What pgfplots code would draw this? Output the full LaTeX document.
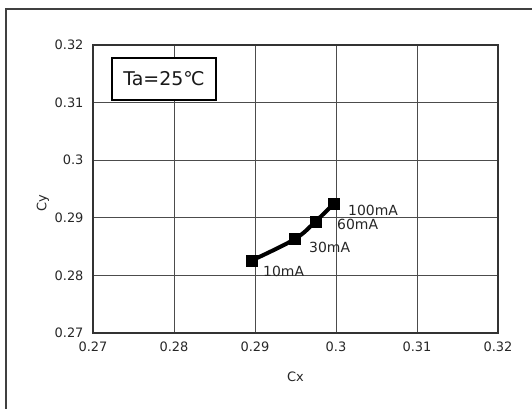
\documentclass[border=0pt]{standalone}
\usepackage{fontspec}
\setmainfont{DejaVu Sans}
\usepackage{pgfplots}
\pgfplotsset{compat=1.18}
\begin{document}
\begin{tikzpicture}[x=1bp,y=1bp]
\useasboundingbox (0,0) rectangle (532,408);
\draw[line width=1.5bp, black!75] (6,-5) -- (6,399) -- (540,399);
\begin{axis}[
  at={(93bp,75bp)}, anchor=south west,
  scale only axis, width=405bp, height=288bp,
  xmin=0.27, xmax=0.32, ymin=0.27, ymax=0.32,
  xtick={0.27,0.28,0.29,0.3,0.31,0.32},
  ytick={0.27,0.28,0.29,0.3,0.31,0.32},
  xticklabels={0.27,0.28,0.29,0.3,0.31,0.32},
  yticklabels={0.27,0.28,0.29,0.3,0.31,0.32},
  /pgf/number format/assume math mode=true,
  tick label style={font=\fontsize{13}{15}\selectfont, text=black!85},
  xticklabel style={yshift=-5bp},
  yticklabel style={xshift=-6bp},
  tick align=inside, major tick length=6bp,
  tick style={black!70, line width=0.8bp},
  grid=major,
  major grid style={black!70, line width=1bp},
  axis line style={black!80, line width=1.2bp},
  xlabel={Cx}, ylabel={Cy},
  label style={font=\fontsize{13}{15}\selectfont, text=black!85},
  xlabel style={at={(axis description cs:0.5,0)}, anchor=center, yshift=-44bp},
  ylabel style={at={(axis description cs:0,0.45)}, anchor=center, yshift=50bp},
  clip=false,
]
\addplot[black, line width=4bp, smooth, tension=0.6, mark=square*, mark size=5.5bp,
  mark options={line width=0.5bp}] coordinates {
  (0.2896,0.2826) (0.2949,0.2863) (0.2975,0.2894) (0.2997,0.2924)
};
\node[anchor=west, inner sep=0pt, font=\fontsize{14}{16}\selectfont, text=black!85] at (axis cs:0.29099,0.28076) {10mA};
\node[anchor=west, inner sep=0pt, font=\fontsize{14}{16}\selectfont, text=black!85] at (axis cs:0.29667,0.28493) {30mA};
\node[anchor=west, inner sep=0pt, font=\fontsize{14}{16}\selectfont, text=black!85] at (axis cs:0.30012,0.28892) {60mA};
\node[anchor=west, inner sep=0pt, font=\fontsize{14}{16}\selectfont, text=black!85] at (axis cs:0.30148,0.29135) {100mA};
\node[draw=black, line width=1.5bp, fill=white, minimum width=104bp, minimum height=42bp, inner sep=0pt,
  font=\fontsize{19}{21}\selectfont, text=black!90] at (axis cs:0.27877,0.3141) {Ta=25℃};
\end{axis}
\end{tikzpicture}
\end{document}
